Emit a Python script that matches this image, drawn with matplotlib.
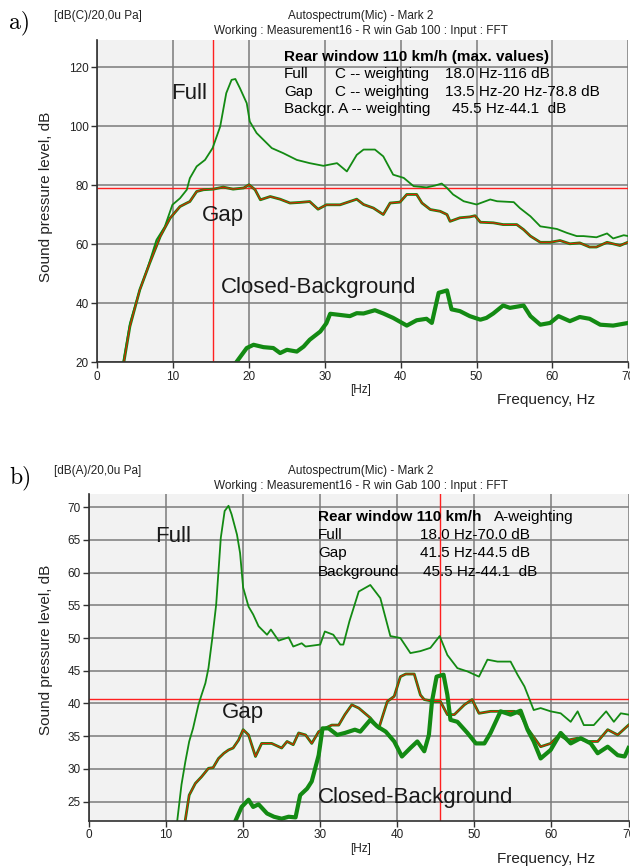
import numpy as np
import matplotlib
matplotlib.use("Agg")
import matplotlib.pyplot as plt

# ---- panel a) : C-weighting, max values ----
full_a_hz = [3.4, 4.3, 5.6, 6.7, 7.8, 8.9, 9.9, 10.9, 11.8, 12.2, 13.1, 14.2, 15.2, 16.2, 17.0, 17.7,
             18.2, 18.8, 19.7, 20.1, 21.0, 21.9, 23.0, 24.5, 26.3, 28.0, 29.8, 31.6, 32.9, 34.2, 35.1,
             36.6, 37.7, 39.0, 40.4, 41.7, 43.4, 44.5, 45.4, 46.1, 46.9, 48.3, 50.0, 51.8, 52.7, 54.9,
             55.7, 57.1, 58.4, 59.7, 60.6, 61.9, 63.2, 64.1, 65.8, 67.2, 68.0, 69.4, 70.0]
full_a_db = [20, 33.3, 44.6, 52.5, 61.5, 66, 73.4, 75.6, 78.5, 82.4, 86.4, 88.6, 92.6, 99.9, 111.2, 115.7,
             116, 112.9, 107.8, 101.6, 97.7, 95.4, 92.6, 90.9, 88.6, 87.5, 86.6, 87.5, 84.7, 90.3, 92.1,
             92.1, 89.8, 83.6, 82.5, 79.7, 79.3, 79.9, 80.6, 79.1, 76.9, 74.6, 73.5, 75.2, 74.6, 74.3,
             72.3, 69.5, 66.1, 65.6, 65.2, 63.9, 62.8, 62.8, 62.4, 63.7, 62, 63.1, 62.8]

gap_a_hz = [3.5, 4.3, 5.6, 6.9, 8.3, 9.6, 10.9, 11.8, 12.2, 13.1, 14.0, 15.3, 16.6, 17.9, 19.3, 20.0,
            20.8, 21.5, 22.8, 24.1, 25.4, 26.7, 28.0, 29.1, 30.2, 32.0, 34.2, 35.1, 36.4, 37.7, 38.6,
            39.9, 40.8, 42.1, 42.8, 43.9, 45.2, 46.1, 46.5, 47.8, 49.1, 49.8, 50.5, 52.2, 53.5, 55.3,
            56.2, 57.1, 58.4, 59.7, 61.0, 62.3, 63.6, 64.9, 65.8, 67.2, 68.9, 70.0]
gap_a_db = [20, 32.2, 44.6, 53.6, 62.7, 68.9, 72.8, 74, 74.5, 77.9, 78.5, 78.7, 79.4, 78.7, 79.1, 80.2,
            78.5, 75.1, 76.2, 75.3, 74, 74.2, 74.5, 71.9, 73.4, 73.4, 75.3, 73.5, 72.3, 70.1, 74,
            74.3, 76.9, 76.9, 74, 71.8, 71.2, 70.1, 67.8, 69, 69.3, 69.7, 67.5, 67.3, 66.7, 66.7,
            65, 62.8, 60.7, 60.7, 61.3, 60.2, 60.5, 59.1, 59.1, 60.7, 59.6, 60.8]

bg_a_hz = [18.3, 19.7, 20.6, 21.9, 23.2, 24.1, 25.0, 26.3, 27.2, 28.0, 29.4, 30.2, 30.7, 32.0, 33.3,
           34.2, 35.1, 36.6, 37.7, 39.0, 40.8, 42.1, 43.4, 44.1, 45.0, 46.1, 46.7, 47.8, 49.1, 50.5,
           51.3, 52.2, 53.5, 54.4, 56.2, 57.1, 58.4, 59.7, 60.8, 62.3, 63.6, 64.9, 66.3, 68.0, 70.0]
bg_a_db = [20, 24.9, 26, 25.2, 24.9, 23.2, 24.3, 23.7, 25.4, 27.7, 30.5, 33.3, 36.5, 36.1, 35.7,
           36.7, 36.6, 37.7, 36.6, 35.1, 32.5, 34.3, 34.8, 33.4, 43.6, 44.4, 38, 37.4, 35.7, 34.5,
           35.1, 36.6, 39.3, 38.5, 39.3, 35.7, 32.8, 33.4, 35.7, 34, 35.4, 34.8, 32.8, 32.5, 33.4]

cursor_a = (15.2, 79.0)

# ---- panel b) : A-weighting ----
full_b_hz = [11.4, 12.0, 12.5, 13.0, 13.5, 14.2, 14.6, 15.1, 15.5, 16.0, 16.5, 16.8, 17.1, 17.6, 18.1,
             18.5, 19.2, 19.6, 20.0, 20.7, 21.3, 22.0, 23.1, 23.6, 24.6, 25.9, 26.5, 27.6, 28.1, 30.0,
             30.6, 31.7, 32.6, 33.0, 33.8, 35.0, 36.5, 37.8, 39.1, 40.4, 41.7, 43.0, 44.3, 45.5, 46.5,
             47.8, 49.1, 50.6, 51.7, 53.0, 54.7, 55.6, 56.5, 57.7, 58.6, 59.9, 61.2, 62.5, 63.4, 64.2,
             65.5, 67.1, 68.1, 69.0, 70.0]
full_b_db = [21.6, 27.6, 31.1, 34.2, 36.2, 39.8, 41.3, 43.1, 45.4, 50, 55.1, 60.2, 65.3, 69.4, 70.2,
             68.9, 65.8, 63, 57.7, 54.8, 53.6, 51.8, 50.5, 51.3, 49.6, 50.1, 48.7, 49.2, 48.7, 49,
             51, 50.5, 49, 49, 52.6, 57.1, 58.1, 56.1, 50.3, 50, 47.7, 48, 48.5, 50.3, 47.4,
             45.4, 44.9, 44.1, 46.7, 46.4, 46.4, 44.4, 42.6, 39, 39.3, 38.8, 38.5, 37.2, 38.8, 36.7,
             36.7, 38.8, 37.2, 38.5, 38.3]

gap_b_hz = [12.4, 13.0, 13.8, 14.6, 15.5, 16.1, 16.8, 17.5, 18.1, 18.7, 19.4, 20.0, 20.7, 21.6, 22.4,
            23.7, 25.0, 25.7, 26.5, 27.2, 28.1, 28.9, 29.8, 30.6, 31.5, 32.4, 33.2, 34.1, 35.0, 36.5,
            37.6, 38.7, 39.6, 40.4, 41.1, 42.2, 43.0, 43.5, 44.8, 45.6, 46.5, 47.4, 48.7, 49.7, 50.6,
            52.1, 53.4, 55.2, 56.0, 56.9, 58.6, 59.9, 61.0, 62.1, 63.4, 64.7, 66.0, 67.3, 68.6, 70.0]
gap_b_db = [21.5, 26, 27.8, 28.8, 30.1, 30.2, 31.6, 32.4, 32.9, 33.2, 34.4, 36, 35.2, 31.9, 33.9,
            33.9, 33.2, 34.2, 33.7, 35.5, 35.2, 33.9, 35.7, 36.2, 36.7, 36.7, 38.3, 39.8, 39.3, 37.8,
            36.2, 40.3, 41.1, 44.1, 44.5, 44.5, 41.3, 40.6, 40.3, 40.3, 38.3, 38.3, 39.8, 40.6, 38.5,
            38.8, 38.8, 38.8, 38.3, 36.2, 33.4, 33.9, 35.2, 34.4, 34.7, 34.2, 34.2, 36, 35.2, 36.7]

bg_b_hz = [18.9, 19.8, 20.7, 21.3, 22.0, 23.1, 24.0, 25.0, 25.9, 26.8, 27.4, 28.3, 28.9, 29.8, 30.3,
           31.1, 32.2, 33.2, 34.5, 35.2, 36.5, 37.4, 38.5, 39.6, 40.6, 41.7, 42.6, 43.5, 44.1, 44.5,
           45.1, 46.0, 46.5, 46.9, 47.8, 49.1, 50.2, 51.3, 52.1, 53.4, 54.7, 56.0, 56.9, 57.7, 58.6,
           59.9, 61.2, 62.5, 63.8, 65.1, 66.0, 67.3, 68.6, 69.5, 70.0]
bg_b_db = [21.8, 24.2, 25.3, 24.2, 24.6, 23.2, 22.7, 22.4, 22.7, 22.6, 26, 27, 28.1, 32.1, 36.2,
           36.2, 35.2, 35.5, 36, 35.7, 37.5, 36.5, 35.7, 34.2, 31.9, 33.2, 34.2, 32.7, 35.2, 40.3,
           44.1, 44.4, 41.3, 37.5, 37.2, 35.5, 33.9, 33.9, 35.5, 38.8, 38.3, 38.9, 36, 34.2, 31.6,
           32.9, 35.5, 33.9, 34.7, 33.9, 32.4, 33.4, 32.1, 31.9, 33.2]

cursor_b = (45.6, 40.7)

W, H = 630, 866
GREEN = '#138a13'
RED = '#ff2020'
SMALL = 8.5   # the analyser's small narrow font
SANS = ['Liberation Sans', 'DejaVu Sans']

plt.rcParams['font.family'] = SANS

fig = plt.figure(figsize=(W / 100, H / 100), dpi=100)


def px(x, y):
    return x / W, 1 - y / H


def panel(rect, ylim, yticks, full, gap, bg, cursor):
    ax = fig.add_axes(rect)
    ax.set_facecolor('#f2f2f2')
    ax.set_xlim(0, 70)
    ax.set_ylim(*ylim)
    ax.set_xticks(np.arange(0, 71, 10))
    ax.set_yticks(yticks)
    ax.grid(True, color='#7a7a7a', lw=1.1)
    ax.set_axisbelow(True)
    for s in ['top', 'right']:
        ax.spines[s].set_visible(False)
    for s in ['left', 'bottom']:
        ax.spines[s].set_color('#303030')
        ax.spines[s].set_linewidth(1.2)
    ax.tick_params(length=4, width=1, color='#303030', pad=2, labelsize=SMALL, labelcolor='#222222')

    ax.axvline(cursor[0], color=RED, lw=1)
    ax.axhline(cursor[1], color=RED, lw=1)

    ax.plot(full[0], full[1], color=GREEN, lw=1.3)
    ax.plot(gap[0], gap[1], color=GREEN, lw=2.0)
    ax.plot(gap[0], gap[1], color='#e02000', lw=0.8)
    ax.plot(bg[0], bg[1], color=GREEN, lw=3.0)
    return ax


def header(y0, letter, unit):
    fig.text(*px(9, y0 + 7), letter, family='cmr10', fontsize=17, va='center')
    fig.text(*px(54, y0), unit, fontsize=SMALL, va='center', color='#222222')
    fig.text(*px(361, y0), 'Autospectrum(Mic) - Mark 2', fontsize=SMALL,
             ha='center', va='center', color='#222222')
    fig.text(*px(361, y0 + 15), 'Working : Measurement16 - R win Gab 100 : Input : FFT',
             fontsize=SMALL, ha='center', va='center', color='#222222')


def footer(ylab_y, y_axis):
    fig.text(*px(46, ylab_y), 'Sound pressure level, dB', rotation=90, fontsize=11,
             ha='center', va='center', color='#222222')
    fig.text(*px(361, y_axis + 28), '[Hz]', fontsize=SMALL,
             ha='center', va='center', color='#222222')
    fig.text(*px(497, y_axis + 38), 'Frequency, Hz', fontsize=11, va='center', color='#222222')


# panel a
ax1 = panel([97.3 / W, 1 - 362.5 / H, 531 / W, 322.5 / H], (20, 129.2), np.arange(20, 121, 20),
            (full_a_hz, full_a_db), (gap_a_hz, gap_a_db), (bg_a_hz, bg_a_db), cursor_a)
header(16, 'a)', '[dB(C)/20,0u Pa]')
footer(197, 362)

ax1.text(9.7, 109.2, 'Full', fontsize=16, color='#1a1a1a')
ax1.text(13.75, 67.8, 'Gap', fontsize=16, color='#1a1a1a')
ax1.text(16.3, 43.5, 'Closed-Background', fontsize=16, color='#1a1a1a')

ax1.text(24.6, 123.5, 'Rear window 110 km/h (max. values)', fontsize=11, weight='bold', va='center')
rows_a = [('Full', 'C -- weighting', '18.0 Hz-116 dB', 45.8, 117.7),
          ('Gap', 'C -- weighting', '13.5 Hz-20 Hz-78.8 dB', 45.8, 111.7),
          ('Backgr. A -- weighting', '', '45.5 Hz-44.1  dB', 46.7, 105.8)]
for name, weight, val, xv, yv in rows_a:
    ax1.text(24.6, yv, name, fontsize=11, va='center')
    ax1.text(31.4, yv, weight, fontsize=11, va='center')
    ax1.text(xv, yv, val, fontsize=11, va='center')

# panel b
ax2 = panel([89 / W, 1 - 821 / H, 539.5 / W, 327 / H], (22.05, 72.0), np.arange(25, 71, 5),
            (full_b_hz, full_b_db), (gap_b_hz, gap_b_db), (bg_b_hz, bg_b_db), cursor_b)
header(471, 'b)', '[dB(A)/20,0u Pa]')
footer(650, 821)

ax2.text(8.6, 64.7, 'Full', fontsize=16, color='#1a1a1a')
ax2.text(17.3, 37.8, 'Gap', fontsize=16, color='#1a1a1a')
ax2.text(29.7, 24.8, 'Closed-Background', fontsize=16, color='#1a1a1a')

ax2.text(29.7, 68.47, 'Rear window 110 km/h', fontsize=11, weight='bold', va='center')
ax2.text(52.6, 68.47, 'A-weighting', fontsize=11, va='center')
rows_b = [('Full', '18.0 Hz-70.0 dB', 43.0, 65.76),
          ('Gap', '41.5 Hz-44.5 dB', 43.0, 62.96),
          ('Background', '45.5 Hz-44.1  dB', 43.3, 60.14)]
for name, val, xv, yv in rows_b:
    ax2.text(29.7, yv, name, fontsize=11, va='center')
    ax2.text(xv, yv, val, fontsize=11, va='center')

fig.savefig('out.png', dpi=100, facecolor='white')
